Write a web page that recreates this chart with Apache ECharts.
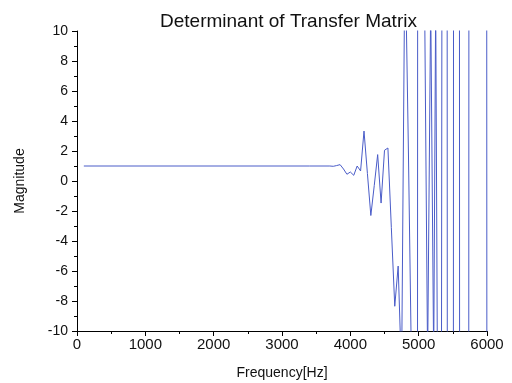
<!DOCTYPE html>
<html>
<head>
<meta charset="utf-8">
<script src="https://cdn.jsdelivr.net/npm/echarts@6/dist/echarts.min.js"></script>
<style>
  html, body { margin: 0; padding: 0; background: #fff; }
  #chart { width: 512px; height: 383px; }
</style>
</head>
<body>
<div id="chart"></div>
<script>
// frequency samples [Hz] and determinant magnitude
// (values beyond +/-10 are off-scale in the original and only set where the trace leaves the window)
const freqs = [
  100, 3400, 3700, 3750, 3800, 3850, 3900, 3950, 4000, 4050, 4100, 4150,
  4200, 4250, 4300, 4350, 4400, 4450, 4500, 4550, 4600, 4650, 4700,
  4750, 4800, 4850, 4900,
  4983, 4985, 5087, 5131, 5153, 5176, 5197, 5220, 5231, 5249, 5265, 5274,
  5334, 5340, 5417, 5419, 5508, 5510, 5597, 5599, 5733, 5735, 5996, 5998, 6000
];
const magnitude = [
  1.0, 1.0, 1.0, 0.98, 1.03, 1.09, 0.8, 0.45, 0.6, 0.38, 1.0, 0.67,
  3.33, 0.5, -2.3, -0.3, 1.76, -1.47, 2.05, 2.2, -3.1, -8.35, -5.67,
  -13, 16, 2, -14,
  -12, 12, 12, -12, -12, 12, 12, -12, -12, 12, 12, -12,
  -12, 12, 12, -12, -12, 12, 12, -12, -12, 12, 12, -12, -12
];
const xTicks = { min: 0, max: 6000, step: 1000 };
const yTicks = { min: -10, max: 10, step: 2 };

const points = freqs.map((f, i) => [f, magnitude[i]]);

const chart = echarts.init(document.getElementById('chart'), null, { renderer: 'canvas' });
const font = 'Liberation Sans, Arial, sans-serif';

chart.setOption({
  animation: false,
  backgroundColor: '#ffffff',
  title: {
    text: 'Determinant of Transfer Matrix',
    left: 155,
    top: 7,
    textStyle: { fontFamily: font, fontSize: 19, fontWeight: 'normal', color: '#111' }
  },
  grid: {
    left: 77, right: 25, top: 31, bottom: 52,
    containLabel: false,
    outerBoundsMode: 'none'
  },
  xAxis: {
    type: 'value',
    min: xTicks.min,
    max: xTicks.max,
    interval: xTicks.step,
    name: 'Frequency[Hz]',
    nameLocation: 'middle',
    nameGap: 35,
    nameTextStyle: { fontFamily: font, fontSize: 14, color: '#111' },
    axisLine: { onZero: false, lineStyle: { color: '#000', width: 1 } },
    axisTick: { show: true, length: 5, lineStyle: { color: '#000' } },
    minorTick: { show: true, splitNumber: 2, length: 3, lineStyle: { color: '#000' } },
    axisLabel: {
      margin: 6, fontFamily: font, fontSize: 15, color: '#111',
      formatter: v => String(v)
    },
    splitLine: { show: false }
  },
  yAxis: {
    type: 'value',
    min: yTicks.min,
    max: yTicks.max,
    interval: yTicks.step,
    name: 'Magnitude',
    nameLocation: 'middle',
    nameGap: 50,
    nameTextStyle: { fontFamily: font, fontSize: 14, color: '#111' },
    axisLine: { onZero: false, lineStyle: { color: '#000', width: 1 } },
    axisTick: { show: true, length: 5, lineStyle: { color: '#000' } },
    minorTick: { show: true, splitNumber: 2, length: 3, lineStyle: { color: '#000' } },
    axisLabel: { margin: 9, fontFamily: font, fontSize: 14, color: '#111' },
    splitLine: { show: false }
  },
  series: [{
    type: 'line',
    data: points,
    showSymbol: false,
    clip: true,
    lineStyle: { color: '#4a5cc8', width: 1 }
  }]
});
</script>
</body>
</html>
